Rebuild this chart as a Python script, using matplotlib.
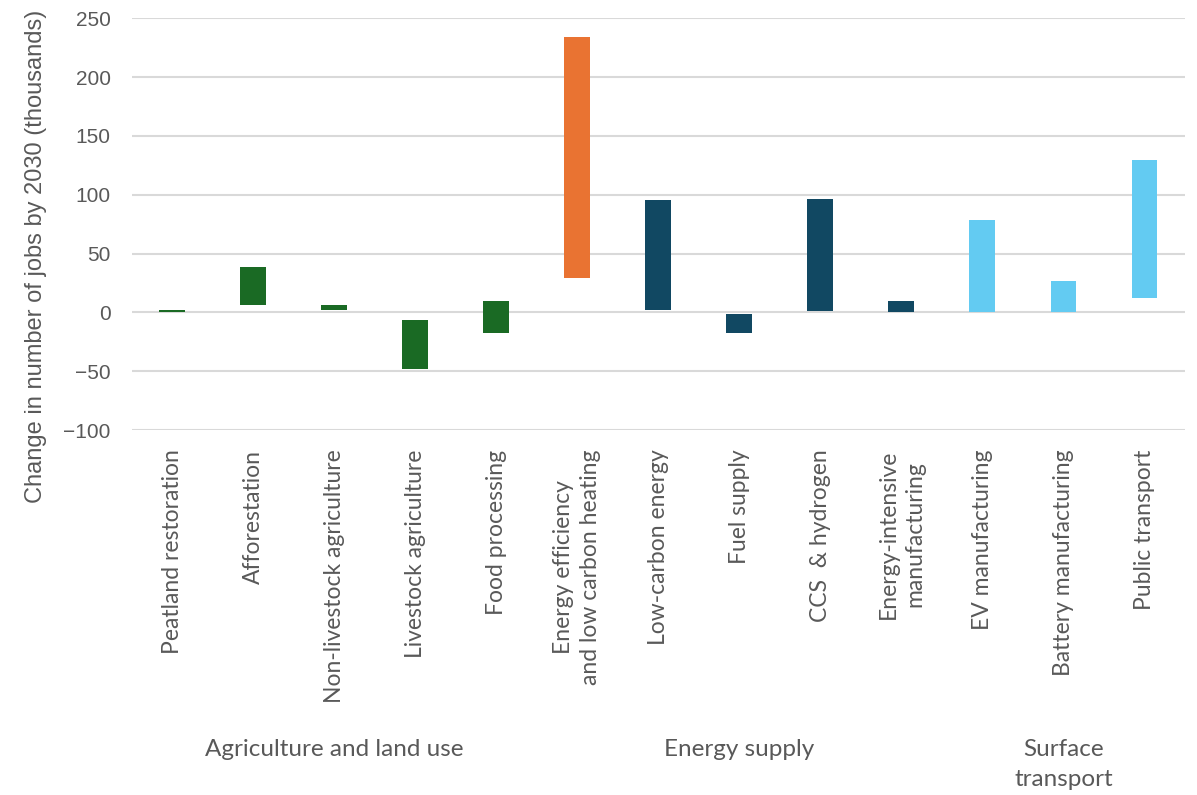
import numpy as np
import matplotlib.pyplot as plt

categories = [
    'Peatland restoration', 'Afforestation', 'Non-livestock agriculture',
    'Livestock agriculture', 'Food processing',
    'Energy efficiency\nand low carbon heating', 'Low-carbon energy',
    'Fuel supply', 'CCS  & hydrogen', 'Energy-intensive\nmanufacturing',
    'EV manufacturing', 'Battery manufacturing', 'Public transport',
]
# floating bars: start and end of each range (thousands of jobs)
bar_low = [0, 6.5, 2, -48.4, -17.2, 29.5, 2.3, -17.2, 1.5, 0, 0, 0, 12.5]
bar_high = [2, 38.6, 6.3, -6.5, 9.7, 234, 95.5, -1.4, 96.4, 9.7, 78.5, 26.7, 129.6]
bar_colors = ['#1a6a24'] * 5 + ['#e97332'] + ['#114862'] * 4 + ['#63cbf2'] * 3

groups = ['Agriculture and land use', 'Energy supply', 'Surface\ntransport']
group_span = [(0, 4), (5, 9), (10, 12)]

fig = plt.figure(figsize=(11.97, 7.95), dpi=100)
ax = fig.add_axes([0.110, 0.459, 0.880, 0.518])

x = np.arange(len(categories))
low = np.array(bar_low)
high = np.array(bar_high)
ax.bar(x, high - low, bottom=low, width=0.32, color=bar_colors, zorder=3)

ax.set_xlim(-0.5, len(categories) - 0.5)
ax.set_ylim(-100, 250)
ax.set_yticks(np.arange(-100, 251, 50))
ax.yaxis.grid(True, color='#d9d9d9', linewidth=1.5, zorder=0)
ax.tick_params(axis='y', length=0, pad=15, labelsize=15, labelcolor='#595959')
for lab in ax.get_yticklabels():
    lab.set_family('Liberation Sans')

ax.set_xticks(x)
ax.set_xticklabels(categories, rotation=90, va='top', ha='center',
                   fontsize=16.5, color='#595959', family='Lato',
                   linespacing=1.35)
ax.tick_params(axis='x', length=0, pad=14)
for s in ax.spines.values():
    s.set_visible(False)

fig.text(0.030, 0.677, 'Change in number of jobs by 2030 (thousands)',
         rotation=90, ha='center', va='center', fontsize=17,
         color='#595959', family='Liberation Sans')

# category group labels under the tick labels
for name, (a, b) in zip(groups, group_span):
    xc = (a + b) / 2
    xf = fig.transFigure.inverted().transform(ax.transData.transform((xc, 0)))[0]
    fig.text(xf, 0.070, name, ha='center', va='top', fontsize=17.5,
             color='#595959', family='Lato', linespacing=1.5)

fig.savefig('out.png', dpi=100, facecolor='white')
